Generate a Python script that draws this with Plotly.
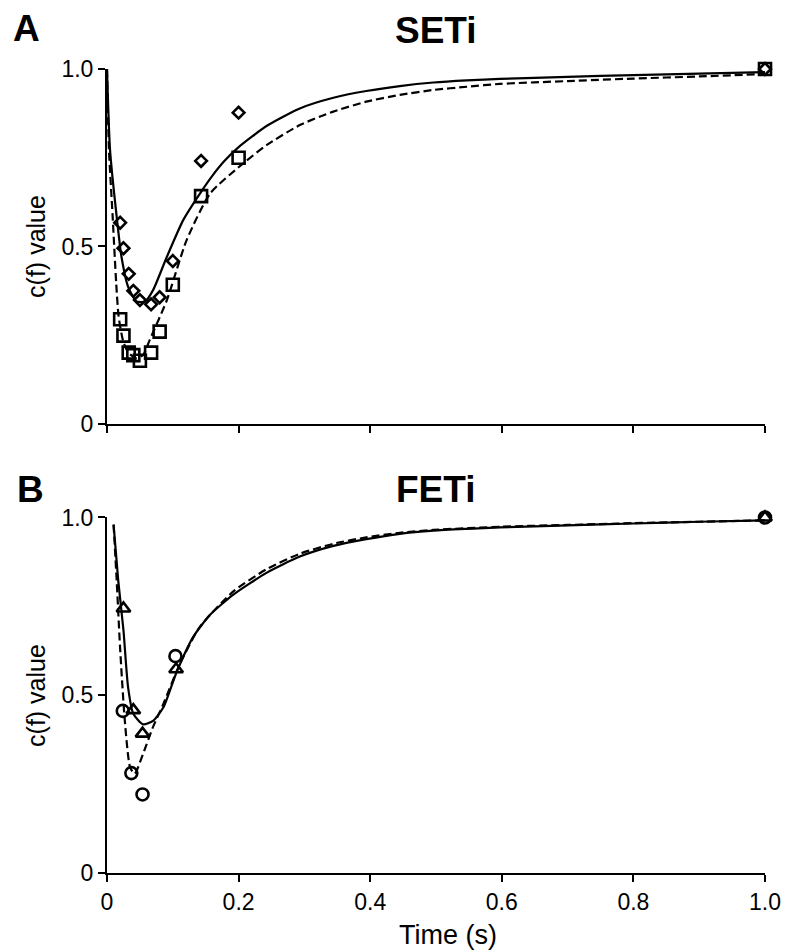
import plotly.graph_objects as go

# ---- Panel A (SETi): measured c(f) values ----
seti_time = [0.02, 0.025, 0.033, 0.04, 0.05, 0.067, 0.08, 0.1, 0.143, 0.2, 1.0]
seti_diamond = [0.567, 0.495, 0.423, 0.375, 0.349, 0.337, 0.357, 0.459, 0.741, 0.877, 1.0]
seti_square = [0.295, 0.249, 0.201, 0.194, 0.178, 0.201, 0.260, 0.392, 0.642, 0.750, 1.0]

# fitted curves, panel A
seti_solid_t = [0.0, 0.0046, 0.0147, 0.022, 0.032, 0.045, 0.058, 0.070, 0.091, 0.116, 0.143,
                0.160, 0.178, 0.200, 0.243, 0.293, 0.344, 0.394, 0.445, 0.496, 0.547, 0.597,
                0.7, 0.8, 0.9, 1.0]
seti_solid_v = [1.0, 0.772, 0.584, 0.471, 0.387, 0.345, 0.345, 0.377, 0.471, 0.575, 0.654,
                0.699, 0.740, 0.780, 0.840, 0.889, 0.919, 0.938, 0.952, 0.962, 0.968, 0.972,
                0.978, 0.983, 0.987, 0.991]
seti_dash_t = [0.0, 0.003, 0.0086, 0.014, 0.0177, 0.025, 0.033, 0.045, 0.055, 0.065, 0.091,
               0.121, 0.157, 0.207, 0.243, 0.293, 0.344, 0.394, 0.445, 0.496, 0.547, 0.597,
               0.7, 0.8, 0.9, 1.0]
seti_dash_v = [1.0, 0.772, 0.584, 0.396, 0.302, 0.23, 0.20, 0.185, 0.195, 0.237, 0.349,
               0.518, 0.650, 0.734, 0.786, 0.842, 0.880, 0.908, 0.927, 0.941, 0.950, 0.958,
               0.966, 0.973, 0.979, 0.986]

# ---- Panel B (FETi): measured c(f) values ----
feti_circle_t = [0.024, 0.037, 0.054, 0.104, 1.0]
feti_circle_v = [0.456, 0.281, 0.221, 0.610, 1.0]
feti_tri_t = [0.025, 0.040, 0.054, 0.105, 1.0]
feti_tri_v = [0.744, 0.458, 0.392, 0.573, 1.0]

# fitted curves, panel B
feti_solid_t = [0.01, 0.017, 0.025, 0.032, 0.040, 0.055, 0.070, 0.086, 0.106, 0.131, 0.156,
                0.192, 0.243, 0.293, 0.344, 0.394, 0.445, 0.496, 0.547, 0.597, 0.7, 0.8,
                0.9, 1.0]
feti_solid_v = [0.98, 0.824, 0.683, 0.523, 0.448, 0.418, 0.428, 0.467, 0.566, 0.664, 0.725,
                0.783, 0.845, 0.890, 0.920, 0.939, 0.954, 0.963, 0.968, 0.972, 0.978, 0.983,
                0.988, 0.992]
feti_dash_t = [0.01, 0.0147, 0.0198, 0.027, 0.035, 0.042, 0.055, 0.070, 0.086, 0.111, 0.141,
               0.192, 0.243, 0.293, 0.344, 0.394, 0.445, 0.496, 0.6, 0.7, 0.8, 0.9, 1.0]
feti_dash_v = [0.98, 0.824, 0.636, 0.430, 0.298, 0.279, 0.336, 0.411, 0.477, 0.589, 0.692,
               0.792, 0.855, 0.898, 0.926, 0.944, 0.957, 0.965, 0.974, 0.979, 0.984, 0.988,
               0.992]

x_ticks = [0, 0.2, 0.4, 0.6, 0.8, 1.0]
x_ticktext = ["0", "0.2", "0.4", "0.6", "0.8", "1.0"]
y_ticks = [0, 0.5, 1.0]
y_ticktext = ["0", "0.5", "1.0"]

FONT = "Liberation Sans, Arial, sans-serif"
BLACK = "#000000"

fig = go.Figure()


def curve(t, v, dash, xa, ya):
    fig.add_trace(go.Scatter(
        x=t, y=v, mode="lines", xaxis=xa, yaxis=ya,
        line=dict(color=BLACK, width=2.2, dash=dash, shape="spline", smoothing=0.6),
        showlegend=False, hoverinfo="skip", cliponaxis=False))


def points(t, v, symbol, size, xa, ya):
    # open symbols are stroked with the marker colour
    fig.add_trace(go.Scatter(
        x=t, y=v, mode="markers", xaxis=xa, yaxis=ya,
        marker=dict(symbol=symbol, size=size, color=BLACK,
                    line=dict(color=BLACK, width=2.6)),
        showlegend=False, cliponaxis=False))


# panel A
curve(seti_solid_t, seti_solid_v, "solid", "x", "y")
curve(seti_dash_t, seti_dash_v, "8px,4px", "x", "y")
points(seti_time, seti_square, "square-open", 12, "x", "y")
points(seti_time, seti_diamond, "diamond-open", 9, "x", "y")

# panel B
curve(feti_solid_t, feti_solid_v, "solid", "x2", "y2")
curve(feti_dash_t, feti_dash_v, "8px,4px", "x2", "y2")
points(feti_circle_t, feti_circle_v, "circle-open", 12, "x2", "y2")
points(feti_tri_t, feti_tri_v, "triangle-up-open", 12, "x2", "y2")

axis_common = dict(
    range=[0, 1.0], showline=True, linecolor=BLACK, linewidth=2,
    ticks="outside", ticklen=7, tickwidth=2, tickcolor=BLACK,
    showgrid=False, zeroline=False, automargin=False,
    tickfont=dict(family=FONT, size=23, color=BLACK),
)

fig.update_layout(
    width=786, height=951,
    margin=dict(l=107, r=21, t=69, b=78, autoexpand=False),
    paper_bgcolor="white", plot_bgcolor="white",
    font=dict(family=FONT, color=BLACK),
    xaxis=dict(axis_common, domain=[0, 1], anchor="y", tickvals=x_ticks,
               showticklabels=False),
    yaxis=dict(axis_common, domain=[0.5585, 1.0], anchor="x", tickvals=y_ticks,
               ticktext=y_ticktext),
    xaxis2=dict(axis_common, domain=[0, 1], anchor="y2", tickvals=x_ticks,
                ticktext=x_ticktext),
    yaxis2=dict(axis_common, domain=[0.0, 0.4422], anchor="x2", tickvals=y_ticks,
                ticktext=y_ticktext),
)

annotations = [
    dict(text="<b>SETi</b>", x=0.5, y=1.0485, font=dict(size=37)),
    dict(text="<b>FETi</b>", x=0.5, y=0.4764, font=dict(size=37)),
    dict(text="<b>A</b>", x=-0.123, y=1.0505, font=dict(size=37)),
    dict(text="<b>B</b>", x=-0.117, y=0.4764, font=dict(size=37)),
    dict(text="c(f) value", x=-0.108, y=0.7799, textangle=-90, font=dict(size=25)),
    dict(text="c(f) value", x=-0.108, y=0.2214, textangle=-90, font=dict(size=25)),
    dict(text="Time (s)", x=0.518, y=-0.0771, font=dict(size=27)),
]
for a in annotations:
    a.update(xref="paper", yref="paper", showarrow=False,
             xanchor="center", yanchor="middle")
    a["font"].update(family=FONT, color=BLACK)
fig.update_layout(annotations=annotations)

fig.write_html("out.html")
